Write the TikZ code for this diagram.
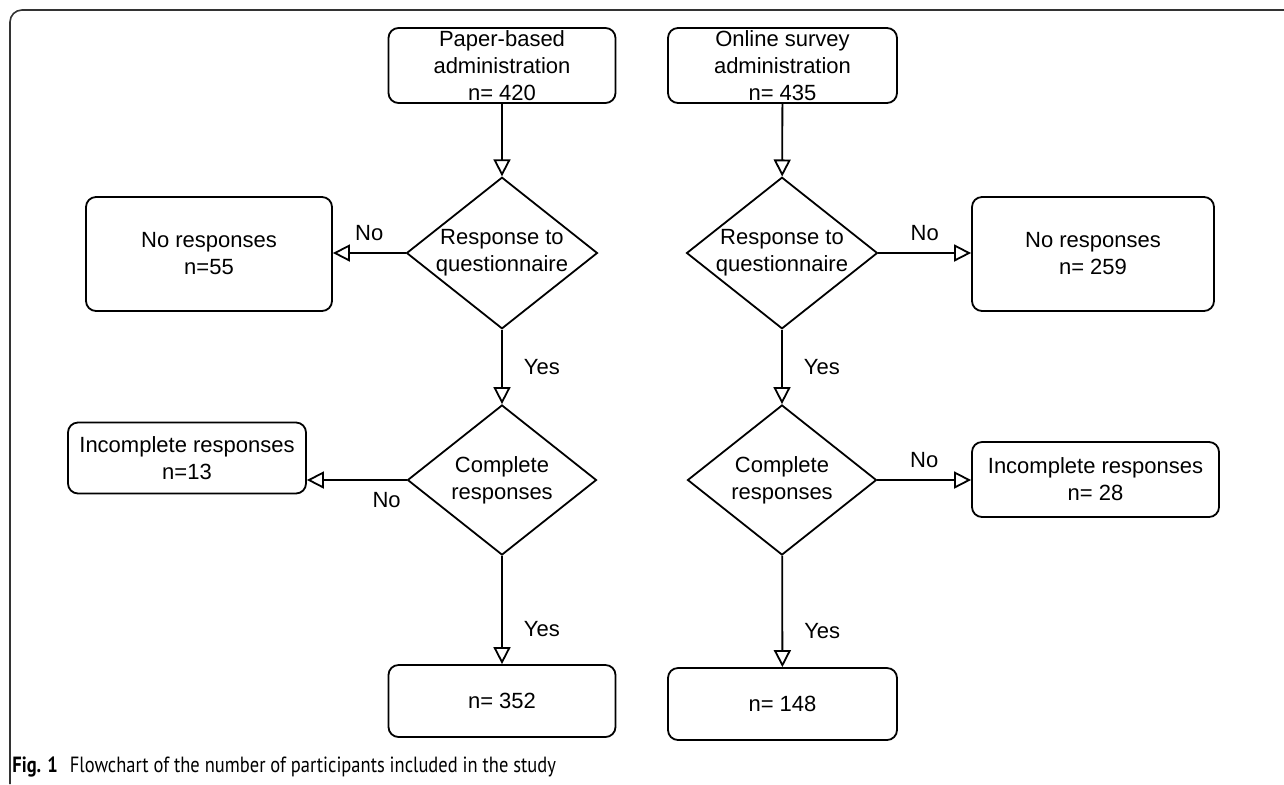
\documentclass[tikz,border=0pt]{standalone}
\usepackage{fontspec}
\setmainfont{Liberation Sans}
\newfontfamily\capfont[FakeStretch=0.84]{PT Sans}
\usetikzlibrary{shapes.geometric,arrows.meta}

\begin{document}
\begin{tikzpicture}[x=0.5pt,y=0.5pt,yscale=-1,
  box/.style={draw, rounded corners=5pt, line width=0.9pt, inner sep=0pt, align=center, font=\fontsize{11}{13.5}\selectfont},
  decision/.style={draw, diamond, aspect=1.26, inner sep=0pt, minimum width=94.5pt, minimum height=75pt, line width=0.9pt, align=center, font=\fontsize{11}{13.5}\selectfont},
  flow/.style={line width=0.9pt, -{Triangle[open, length=8.5pt, width=8.5pt]}},
  lbl/.style={inner sep=0pt, font=\fontsize{11}{13.5}\selectfont}]
\useasboundingbox (0,0) rectangle (1284,784);

%Shape: Frame
\draw [black!80, line width=0.8pt, rounded corners=6pt] (10,784) -- (10,10) -- (1284,10);

%Shape: Rectangle (start boxes)
\node [box, minimum width=113.5pt, minimum height=37.5pt] (paper) at (502,65.5) {Paper-based\\administration\\n= 420};
\node [box, minimum width=114.5pt, minimum height=37.5pt] (online) at (782.5,65.5) {Online survey\\administration\\n= 435};

%Shape: Diamond (decisions)
\node [decision] (respL) at (502,253) {Response to\\questionnaire};
\node [decision] (respR) at (782,253) {Response to\\questionnaire};
\node [decision] (compL) at (502,480) {Complete\\responses};
\node [decision] (compR) at (782,480) {Complete\\responses};

%Shape: Rectangle (outcomes)
\node [box, minimum width=123pt, minimum height=57pt] (noL) at (209,254) {No responses\\n=55};
\node [box, minimum width=121pt, minimum height=57pt] (noR) at (1093,254) {No responses\\n= 259};
\node [box, minimum width=119pt, minimum height=35.5pt] (incL) at (187,458) {Incomplete responses\\n=13};
\node [box, minimum width=123.5pt, minimum height=37.5pt] (incR) at (1095.5,479.5) {Incomplete responses\\n= 28};
\node [box, minimum width=113.5pt, minimum height=36pt] (finL) at (502,701) {n= 352};
\node [box, minimum width=114.5pt, minimum height=36pt] (finR) at (782.5,704) {n= 148};

%Straight Lines (left branch)
\draw [flow] (paper) -- (respL);
\draw [flow] (respL.west) -- node [lbl, above=5.5pt] (noLbl1) {No} (respL.west -| noL.east);
\draw [flow] (respL) -- node [lbl, right=10.5pt] (yesLbl1) {Yes} (compL);
\draw [flow] (compL.west) -- node [lbl, below=5.5pt, pos=0.2] (noLbl2) {No} (compL.west -| incL.east);
\draw [flow] (compL) -- node [lbl, right=10.5pt, pos=0.68] (yesLbl2) {Yes} (finL);

%Straight Lines (right branch)
\draw [flow] (online) -- (respR);
\draw [flow] (respR.east) -- node [lbl, above=5.5pt] (noLbl3) {No} (respR.east -| noR.west);
\draw [flow] (respR) -- node [lbl, right=10.5pt] (yesLbl3) {Yes} (compR);
\draw [flow] (compR.east) -- node [lbl, above=5.5pt] (noLbl4) {No} (compR.east -| incR.west);
\draw [flow] (compR) -- node [lbl, right=10.5pt, pos=0.68] (yesLbl4) {Yes} (finR);

% Text Node (caption)
\node [anchor=base west, inner sep=0pt, font=\capfont\fontsize{11}{13}\selectfont] (caption) at (12,772) {\textbf{Fig. 1}\hspace{6pt}Flowchart of the number of participants included in the study};

\end{tikzpicture}
\end{document}
